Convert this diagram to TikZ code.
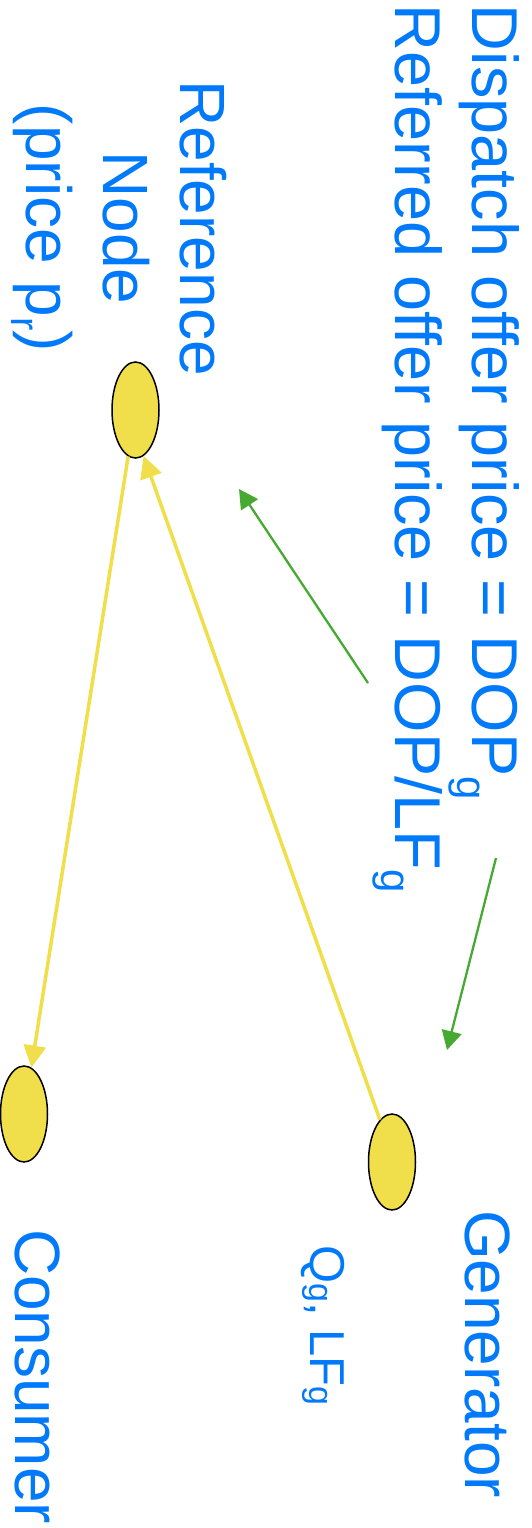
\documentclass[tikz,border=0pt]{standalone}
\usepackage{fontspec}
\setmainfont{Liberation Sans}
\usetikzlibrary{shapes.geometric,arrows.meta}
\definecolor{txtblue}{RGB}{0,122,250}
\definecolor{busyellow}{RGB}{240,223,74}
\definecolor{pricegreen}{RGB}{70,170,50}
\newcommand{\bigsize}{\fontsize{64}{77}\selectfont}
\newcommand{\titlesize}{\fontsize{64.8}{77}\selectfont}
\newcommand{\smallsize}{\fontsize{49}{58}\selectfont}
\newcommand{\lowsub}[3]{\raisebox{-#1}{\fontsize{#2}{#2}\selectfont #3}}
\begin{document}
\begin{tikzpicture}[x=1pt,y=-1pt,
  lbl/.style={text=txtblue, inner sep=0pt, outer sep=0pt, rotate=-90, font=\bigsize},
  titlelbl/.style={lbl, font=\titlesize},
  smalllbl/.style={text=txtblue, inner sep=0pt, outer sep=0pt, rotate=-90, font=\smallsize},
  bus/.style={ellipse, draw=black, line width=1.5pt, fill=busyellow, minimum width=47pt, minimum height=96pt, inner sep=0pt},
  flow/.style={draw=busyellow, line width=3.5pt, -{Triangle[length=22pt,width=22pt]}},
  priceflow/.style={draw=pricegreen, line width=2.3pt, -{Triangle[length=19pt,width=20pt]}}]
\useasboundingbox (0,0) rectangle (531,1528);

% buses
\node[bus] (ref) at (135.5,410) {};
\node[bus] (gen) at (392,1162) {};
\node[bus] (cons) at (24,1114) {};

% labels
\node[titlelbl, anchor=base west] (dop) at (472,5) {Dispatch offer price = DOP\lowsub{15pt}{42}{g}};
\node[titlelbl, anchor=base west] (rop) at (395,5) {Referred offer price = DOP/LF\lowsub{14pt}{42}{g}};
\node[lbl, anchor=base] (refa) at (180,228) {Reference};
\node[lbl, anchor=base] (refb) at (103,228) {Node};
\node[lbl, anchor=base] (refc) at (26,228) {(price p\lowsub{14pt}{40}{r})};
\node[lbl, anchor=base west] (genl) at (465,1210) {Generator};
\node[smalllbl, anchor=base west] (genq) at (310,1245) {Q\lowsub{1pt}{34}{g}, LF\lowsub{1pt}{34}{g}};
\node[lbl, anchor=base west] (consl) at (16,1229) {Consumer};

% energy flows
\draw[flow] (ref) -- (cons);
\draw[flow] (gen.106) -- (ref.-80);

% price referral arrows
\coordinate (g1s) at (368,683);
\coordinate (g1e) at (239,489);
\coordinate (g2s) at (496,858);
\coordinate (g2e) at (447,1050);
\draw[priceflow] (g1s) -- (g1e);
\draw[priceflow] (g2s) -- (g2e);
\end{tikzpicture}
\end{document}
